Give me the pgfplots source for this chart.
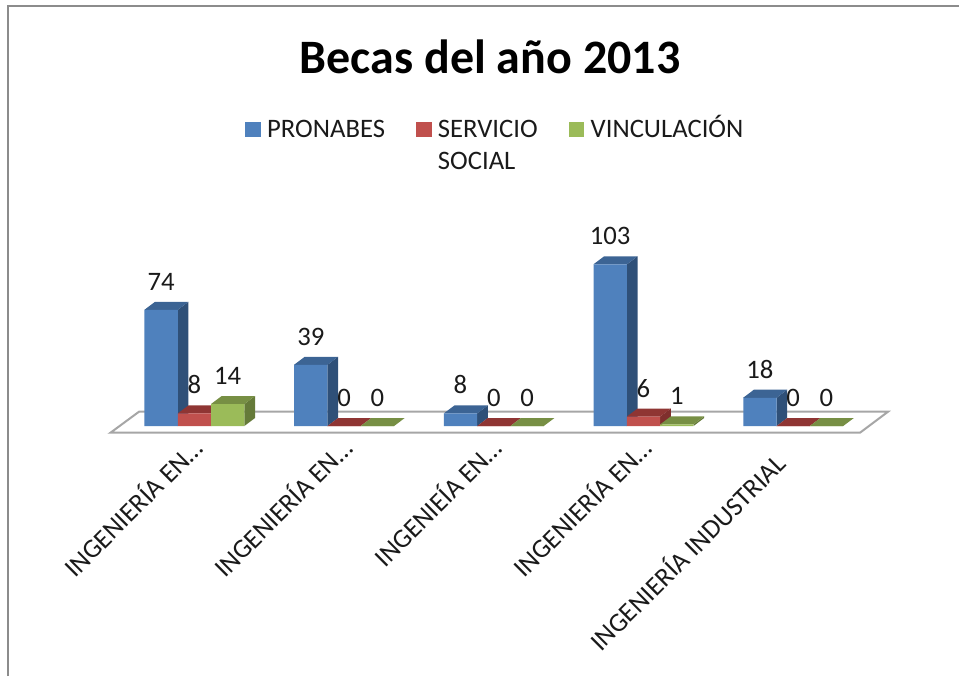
\documentclass[border=0pt]{standalone}
\usepackage{fontspec}
\setmainfont{Carlito}
\usepackage{pgfplots}
\pgfplotsset{compat=1.18}

\definecolor{azul}{HTML}{4F81BD}
\definecolor{azultop}{HTML}{3C6494}
\definecolor{azulside}{HTML}{2F5078}
\definecolor{rojo}{HTML}{C0504D}
\definecolor{rojotop}{HTML}{8F3533}
\definecolor{rojoside}{HTML}{7F2F2D}
\definecolor{verde}{HTML}{9BBB59}
\definecolor{verdetop}{HTML}{778F44}
\definecolor{verdeside}{HTML}{657A39}
\definecolor{marco}{HTML}{8C8C8C}
\definecolor{piso}{HTML}{A6A6A6}
\definecolor{texto}{HTML}{1A1A1A}

\newcommand{\txt}{\fontsize{20}{24}\selectfont}

\begin{document}
\begin{tikzpicture}
  \path[use as bounding box] (0,0) rectangle (719.25pt,507pt);
  % marco del grafico, solo arriba e izquierda
  \draw[marco, line width=1.7pt] (6.2pt,0) -- (6.2pt,502.4pt) -- (719.25pt,502.4pt);

  \begin{axis}[
      at={(78.435pt,181.61pt)}, anchor=south west,
      scale only axis,
      width=595.06pt, height=135.41pt,
      xmin=-0.6, xmax=4.7,
      ymin=-5, ymax=110,
      clip=false,
      axis line style={draw=none},
      major tick length=0pt,
      ytick=\empty,
      xtick={0,1,2,3,4},
      xticklabels={INGENIERÍA EN…,INGENIERÍA EN…,INGENIEÍA EN…,INGENIERÍA EN…,INGENIERÍA INDUSTRIAL\rule{16.5pt}{0pt}},
      xticklabel style={rotate=45, anchor=north east, font=\txt, text=texto, inner sep=0pt, xshift=-3.15pt, yshift=2.95pt},
      /pgf/number format/assume math mode=true,
      every node near coord/.append style={anchor=base, yshift=14.6pt, font=\txt, text=texto, inner sep=0pt},
      title={Becas del año 2013},
      title style={at={(axis description cs:0.4858,1.9543)}, anchor=base, font=\fontsize{36}{40}\selectfont\bfseries, inner sep=0pt},
      legend columns=3,
      legend image code/.code={\fill[#1] (0pt,0pt) rectangle (11.6pt,11.6pt);},
      legend style={
        at={(axis description cs:0.172,1.7843)}, anchor=north west,
        draw=none, fill=none, font=\txt, text=texto,
        nodes={inner sep=0pt, anchor=base},
        /tikz/every odd column/.append style={column sep=4.8pt},
        /tikz/every even column/.append style={column sep=23.3pt},
      },
    ]

    % piso
    \addplot[fill=white, draw=piso, line width=1.5pt, forget plot] coordinates {
      (-0.5605,-4.27) (4.4462,-4.27) (4.6333,9.11) (-0.3701,9.11)} -- cycle;

    % PRONABES: costados y tapas
    \addplot[fill=azulside, draw=none, forget plot] coordinates {(-.111,0) (-.111,74) (-.04,79.1) (-.04,5.1)} -- cycle;
    \addplot[fill=azultop, draw=none, forget plot] coordinates {(-.334,74) (-.111,74) (-.04,79.1) (-.263,79.1)} -- cycle;
    \addplot[fill=azulside, draw=none, forget plot] coordinates {(.889,0) (.889,39) (.96,44.1) (.96,5.1)} -- cycle;
    \addplot[fill=azultop, draw=none, forget plot] coordinates {(.666,39) (.889,39) (.96,44.1) (.737,44.1)} -- cycle;
    \addplot[fill=azulside, draw=none, forget plot] coordinates {(1.889,0) (1.889,8) (1.96,13.1) (1.96,5.1)} -- cycle;
    \addplot[fill=azultop, draw=none, forget plot] coordinates {(1.666,8) (1.889,8) (1.96,13.1) (1.737,13.1)} -- cycle;
    \addplot[fill=azulside, draw=none, forget plot] coordinates {(2.889,0) (2.889,103) (2.96,108.1) (2.96,5.1)} -- cycle;
    \addplot[fill=azultop, draw=none, forget plot] coordinates {(2.666,103) (2.889,103) (2.96,108.1) (2.737,108.1)} -- cycle;
    \addplot[fill=azulside, draw=none, forget plot] coordinates {(3.889,0) (3.889,18) (3.96,23.1) (3.96,5.1)} -- cycle;
    \addplot[fill=azultop, draw=none, forget plot] coordinates {(3.666,18) (3.889,18) (3.96,23.1) (3.737,23.1)} -- cycle;
    \addplot[ybar, bar width=24.975pt, bar shift=-24.975pt, fill=azul, draw=none,
        nodes near coords, nodes near coords style={xshift=-24.975pt}]
      coordinates {(0,74) (1,39) (2,8) (3,103) (4,18)};
    \addlegendentry{PRONABES}

    % SERVICIO SOCIAL
    \addplot[fill=rojoside, draw=none, forget plot] coordinates {(.111,0) (.111,8) (.182,13.1) (.182,5.1)} -- cycle;
    \addplot[fill=rojotop, draw=none, forget plot] coordinates {(-.111,8) (.111,8) (.182,13.1) (-.04,13.1)} -- cycle;
    \addplot[fill=rojotop, draw=none, forget plot] coordinates {(.889,0) (1.111,0) (1.182,5.1) (.96,5.1)} -- cycle;
    \addplot[fill=rojotop, draw=none, forget plot] coordinates {(1.889,0) (2.111,0) (2.182,5.1) (1.96,5.1)} -- cycle;
    \addplot[fill=rojoside, draw=none, forget plot] coordinates {(3.111,0) (3.111,6) (3.182,11.1) (3.182,5.1)} -- cycle;
    \addplot[fill=rojotop, draw=none, forget plot] coordinates {(2.889,6) (3.111,6) (3.182,11.1) (2.96,11.1)} -- cycle;
    \addplot[fill=rojotop, draw=none, forget plot] coordinates {(3.889,0) (4.111,0) (4.182,5.1) (3.96,5.1)} -- cycle;
    \addplot[ybar, bar width=24.975pt, bar shift=0pt, fill=rojo, draw=none, nodes near coords]
      coordinates {(0,8) (1,0) (2,0) (3,6) (4,0)};
    \addlegendentry{\begin{tabular}[t]{@{}l@{}}SERVICIO\\SOCIAL\end{tabular}}

    % VINCULACION
    \addplot[fill=verdeside, draw=none, forget plot] coordinates {(.334,0) (.334,14) (.405,19.1) (.405,5.1)} -- cycle;
    \addplot[fill=verdetop, draw=none, forget plot] coordinates {(.111,14) (.334,14) (.405,19.1) (.182,19.1)} -- cycle;
    \addplot[fill=verdetop, draw=none, forget plot] coordinates {(1.111,0) (1.334,0) (1.405,5.1) (1.182,5.1)} -- cycle;
    \addplot[fill=verdetop, draw=none, forget plot] coordinates {(2.111,0) (2.334,0) (2.405,5.1) (2.182,5.1)} -- cycle;
    \addplot[fill=verdeside, draw=none, forget plot] coordinates {(3.334,0) (3.334,1) (3.405,6.1) (3.405,5.1)} -- cycle;
    \addplot[fill=verdetop, draw=none, forget plot] coordinates {(3.111,1) (3.334,1) (3.405,6.1) (3.182,6.1)} -- cycle;
    \addplot[fill=verdetop, draw=none, forget plot] coordinates {(4.111,0) (4.334,0) (4.405,5.1) (4.182,5.1)} -- cycle;
    \addplot[ybar, bar width=24.975pt, bar shift=24.975pt, fill=verde, draw=none,
        nodes near coords, nodes near coords style={xshift=24.975pt}]
      coordinates {(0,14) (1,0) (2,0) (3,1) (4,0)};
    \addlegendentry{VINCULACIÓN}

  \end{axis}
\end{tikzpicture}
\end{document}
